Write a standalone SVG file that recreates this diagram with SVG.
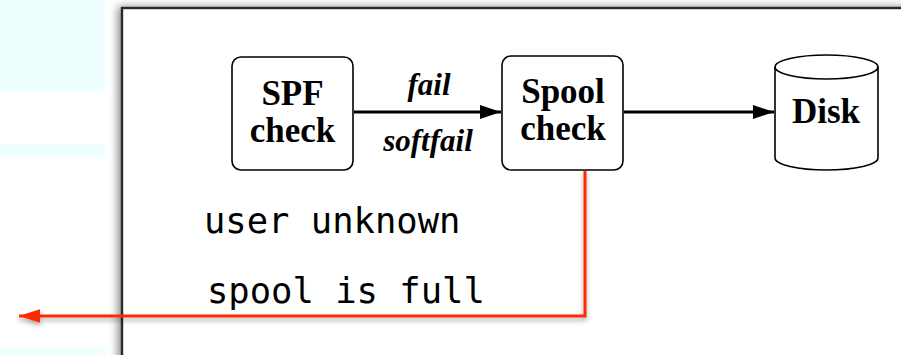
<svg xmlns="http://www.w3.org/2000/svg" width="901" height="355" viewBox="0 0 901 355">
  <style>
    .box { fill: #ffffff; stroke: #000000; stroke-width: 1.6; }
    .lbl { font-family: "Liberation Serif", "Times New Roman", serif; font-weight: bold; font-size: 35px; fill: #000000; text-anchor: middle; }
    .edge { font-family: "Liberation Serif", "Times New Roman", serif; font-weight: bold; font-style: italic; font-size: 31px; fill: #000000; text-anchor: middle; }
    .mono { font-family: "DejaVu Sans Mono", monospace; font-size: 35.5px; fill: #000000; }
    .flow { fill: none; stroke: #000000; stroke-width: 2.8; }
    .reject { fill: none; stroke: #ff2a00; stroke-width: 3; }
  </style>
  <defs>
    <marker id="arrowBlack" markerWidth="7.5" markerHeight="5" refX="7.5" refY="2.5" orient="auto" markerUnits="strokeWidth">
      <path d="M0,0 L7.5,2.5 L0,5 Z" fill="#000000"/>
    </marker>
    <marker id="arrowRed" markerWidth="7" markerHeight="4.5" refX="7" refY="2.25" orient="auto" markerUnits="strokeWidth">
      <path d="M0,0 L7,2.25 L0,4.5 Z" fill="#ff2a00"/>
    </marker>
    <filter id="panelShadow" x="-5%" y="-5%" width="110%" height="110%">
      <feDropShadow dx="-3" dy="0" stdDeviation="4" flood-color="#000000" flood-opacity="0.45"/>
    </filter>
    <filter id="lineShadow" x="-5%" y="-50%" width="110%" height="300%">
      <feDropShadow dx="0" dy="3" stdDeviation="2.5" flood-color="#000000" flood-opacity="0.35"/>
    </filter>
  </defs>

  <!-- background slide strips -->
  <rect width="901" height="355" fill="#ffffff"/>
  <rect x="0" y="0" width="105" height="92" fill="#effefe"/>
  <rect x="0" y="144" width="105" height="13" fill="#effefe"/>
  <rect x="0" y="347" width="105" height="8" fill="#effefe"/>

  <!-- main panel -->
  <rect x="122" y="8" width="800" height="360" fill="#ffffff" stroke="#2a2a2a" stroke-width="2.4" filter="url(#panelShadow)"/>

  <g id="connectors">
    <line class="flow" x1="15" y1="112" x2="231" y2="112" marker-end="url(#arrowBlack)" filter="url(#lineShadow)"/>
    <line class="flow" x1="354" y1="112" x2="501" y2="112" marker-end="url(#arrowBlack)"/>
    <line class="flow" x1="624" y1="112" x2="774" y2="112" marker-end="url(#arrowBlack)"/>
    <polyline class="reject" points="585,171 585,316 19,316" marker-end="url(#arrowRed)" filter="url(#lineShadow)"/>
  </g>

  <g id="edge-labels">
    <text class="edge" x="429" y="95">fail</text>
    <text class="edge" x="428" y="151">softfail</text>
    <text class="mono" x="204" y="233">user unknown</text>
    <text class="mono" x="207" y="303">spool is full</text>
  </g>

  <g id="spf-check">
    <rect class="box" x="232" y="57" width="121" height="113" rx="9"/>
    <text class="lbl" x="292.5" y="105">SPF</text>
    <text class="lbl" x="292.5" y="142">check</text>
  </g>

  <g id="spool-check">
    <rect class="box" x="502" y="56" width="121" height="114" rx="9"/>
    <text class="lbl" x="563" y="103">Spool</text>
    <text class="lbl" x="563" y="140">check</text>
  </g>

  <g id="disk">
    <path class="box" d="M775,67 L775,158 A51.5,12 0 0 0 878,158 L878,67 A51.5,12 0 0 0 775,67 Z"/>
    <path fill="none" stroke="#000000" stroke-width="1.6" d="M775,67 A51.5,12 0 0 0 878,67"/>
    <text class="lbl" x="826" y="123">Disk</text>
  </g>
</svg>
